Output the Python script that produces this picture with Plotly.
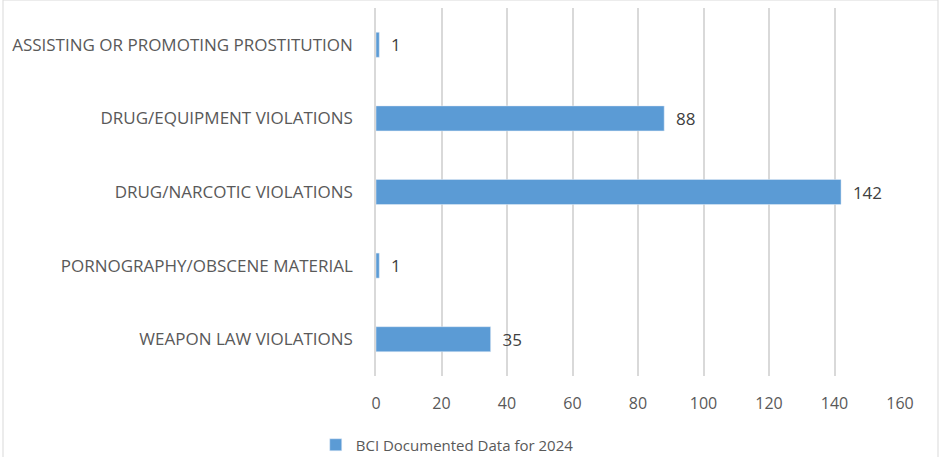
import plotly.graph_objects as go

categories = [
    "ASSISTING OR PROMOTING PROSTITUTION",
    "DRUG/EQUIPMENT VIOLATIONS",
    "DRUG/NARCOTIC VIOLATIONS",
    "PORNOGRAPHY/OBSCENE MATERIAL",
    "WEAPON LAW VIOLATIONS",
]
values = [1, 88, 142, 1, 35]
series_name = "BCI Documented Data for 2024"
x_ticks = [0, 20, 40, 60, 80, 100, 120, 140, 160]

FONT = "Open Sans"
fig = go.Figure()
fig.add_trace(go.Bar(
    y=categories, x=values, orientation="h", name=series_name,
    marker=dict(color="#5B9BD5"),
    text=[str(v) for v in values], textposition="outside",
    texttemplate="\u00a0\u00a0%{text}",
    textfont=dict(family=FONT, size=17, color="#404040"),
    cliponaxis=False,
))
fig.update_layout(
    width=945, height=457,
    margin=dict(l=376, r=45, t=8, b=81, autoexpand=False),
    paper_bgcolor="white", plot_bgcolor="white",
    bargap=0.66,
    showlegend=True,
    legend=dict(orientation="h", x=-0.115, xanchor="left",
                yref="container", y=12/457, yanchor="middle",
                itemwidth=30,
                font=dict(family=FONT, size=15, color="#595959")),
    font=dict(family=FONT, size=17, color="#595959"),
    xaxis=dict(range=[0, 160], tickvals=x_ticks, showgrid=True, gridcolor="#D9D9D9",
               gridwidth=1.5, zeroline=False, showline=False, ticks="", ticklen=0,
               ticklabelstandoff=16, automargin=False,
               tickfont=dict(family=FONT, size=16, color="#595959")),
    yaxis=dict(autorange="reversed", showline=True, linecolor="#D9D9D9", linewidth=1.5,
               ticks="", ticklabelstandoff=18, automargin=False,
               tickfont=dict(family=FONT, size=17, color="#595959")),
    shapes=[
        dict(type="rect", xref="paper", yref="paper",
             x0=-373/524, x1=1 + 38/524, y0=-449/368, y1=1 + 8/368,
             line=dict(color="#D9D9D9", width=1), fillcolor="rgba(0,0,0,0)"),
    ],
)
fig.write_html("out.html", config={"displayModeBar": False})
with open("out.html", "r", encoding="utf-8") as f:
    html = f.read()
html = html.replace("<body>", '<body style="margin:0;padding:0;">', 1)
with open("out.html", "w", encoding="utf-8") as f:
    f.write(html)
